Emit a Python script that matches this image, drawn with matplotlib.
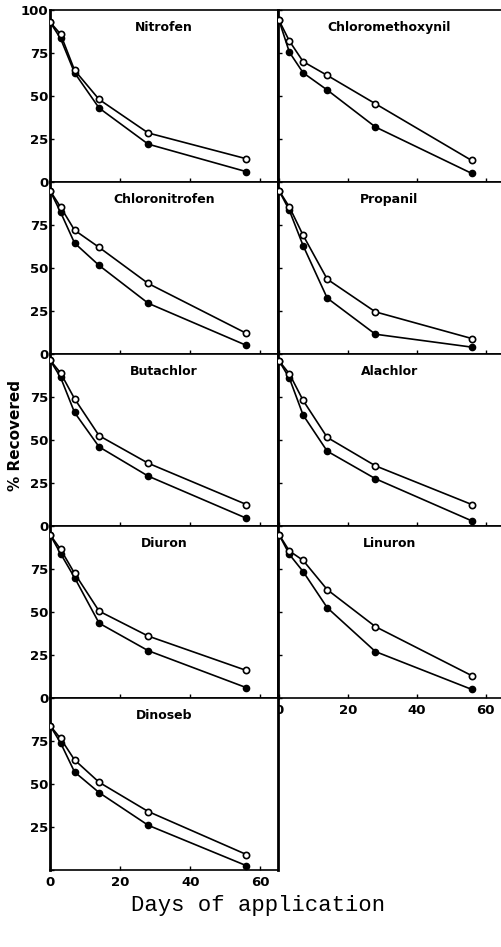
import matplotlib
matplotlib.use("Agg")
import matplotlib.pyplot as plt

days = [0, 3, 7, 14, 28, 56]

# % recovered: open circles / filled circles
nitrofen_open = [93, 86, 65, 48, 28.5, 13.5]
nitrofen_filled = [93, 83.5, 63.5, 43, 22, 6]
chloromethoxynil_open = [94, 82, 70, 62, 45.5, 12.5]
chloromethoxynil_filled = [94, 75.5, 63.5, 53.5, 32, 5]
chloronitrofen_open = [95, 85.5, 72, 62, 41, 12]
chloronitrofen_filled = [95, 82.5, 64.5, 51.5, 29.5, 5]
propanil_open = [95, 85.5, 69, 43.5, 24.5, 9]
propanil_filled = [95, 83.5, 63, 32.5, 11.5, 4]
butachlor_open = [96.5, 89, 74, 52.5, 36.5, 12.5]
butachlor_filled = [96.5, 86.5, 66, 46, 29, 4.5]
alachlor_open = [96, 88.5, 73, 51.5, 35, 12.5]
alachlor_filled = [96, 86, 64.5, 43.5, 27.5, 3]
diuron_open = [95, 86.5, 72.5, 50.5, 36, 16]
diuron_filled = [95, 84, 70, 43.5, 27.5, 6]
linuron_open = [95, 85.5, 80, 63, 41.5, 13]
linuron_filled = [95, 83.5, 73.5, 52.5, 27, 5]
dinoseb_open = [84, 76.5, 64, 51, 34, 9]
dinoseb_filled = [84, 74, 57, 45, 26, 2.5]

panels = [
    ("Nitrofen", nitrofen_open, nitrofen_filled, 0, 0),
    ("Chloromethoxynil", chloromethoxynil_open, chloromethoxynil_filled, 0, 1),
    ("Chloronitrofen", chloronitrofen_open, chloronitrofen_filled, 1, 0),
    ("Propanil", propanil_open, propanil_filled, 1, 1),
    ("Butachlor", butachlor_open, butachlor_filled, 2, 0),
    ("Alachlor", alachlor_open, alachlor_filled, 2, 1),
    ("Diuron", diuron_open, diuron_filled, 3, 0),
    ("Linuron", linuron_open, linuron_filled, 3, 1),
    ("Dinoseb", dinoseb_open, dinoseb_filled, 4, 0),
]

W, H = 502, 947
fig = plt.figure(figsize=(W / 100, H / 100), dpi=100)

tick_font = dict(family="DejaVu Sans", weight="bold", size=9.5)

# pixel geometry of the grid (panels touch each other)
col_x = [(50, 278), (278, 501)]
row_top0, row_h = 10, 172

for name, y_open, y_filled, r, c in panels:
    x0, x1 = col_x[c]
    top = row_top0 + r * row_h
    ax = fig.add_axes([x0 / W, 1 - (top + row_h) / H, (x1 - x0) / W, row_h / H])

    ax.plot(days, y_filled, "-o", color="black", lw=1.2, ms=4.5, mfc="black", mec="black", zorder=3)
    ax.plot(days, y_open, "-o", color="black", lw=1.2, ms=4.5, mfc="white", mec="black", mew=1.2, zorder=4)

    if c == 0:
        ax.set_xlim(0, 65)
    else:
        ax.set_xlim(-0.3, 64.5)
    ax.set_ylim(0, 100)
    ax.set_xticks([0, 20, 40, 60])
    ax.set_yticks([0, 25, 50, 75, 100])
    ax.tick_params(direction="in", length=3, width=1, pad=1)

    # tick labels only where the reference shows them
    if c == 0:
        ylabs = ["0", "25", "50", "75", "100"]
        if r > 0:
            ylabs[4] = ""
        if r == 4:
            ylabs[0] = ""
        ax.set_yticklabels(ylabs, **tick_font)
    else:
        ax.set_yticklabels([])
    if (r == 4 and c == 0) or (r == 3 and c == 1):
        ax.set_xticklabels(["0", "20", "40", "60"], **tick_font)
        ax.tick_params(axis="x", pad=4)
    else:
        ax.set_xticklabels([])

    for side in ["top", "bottom"]:
        ax.spines[side].set_linewidth(1.2)
    ax.spines["left"].set_linewidth(2)
    if c == 0:
        ax.spines["right"].set_linewidth(2)
    else:
        ax.spines["right"].set_linewidth(0.6)
        ax.spines["right"].set_color("#777777")

    ax.text(0.5, 0.9, name, transform=ax.transAxes, ha="center", va="center",
            family="DejaVu Sans", weight="bold", size=9)

fig.text(16 / W, 1 - 435 / H, "% Recovered", rotation=90, ha="center", va="center",
         family="DejaVu Sans", weight="bold", size=11)
fig.text(258 / W, 1 - 905 / H, "Days of application", ha="center", va="center",
         family=["Liberation Mono", "DejaVu Sans Mono"], size=16)

fig.savefig("out.png", dpi=100)
